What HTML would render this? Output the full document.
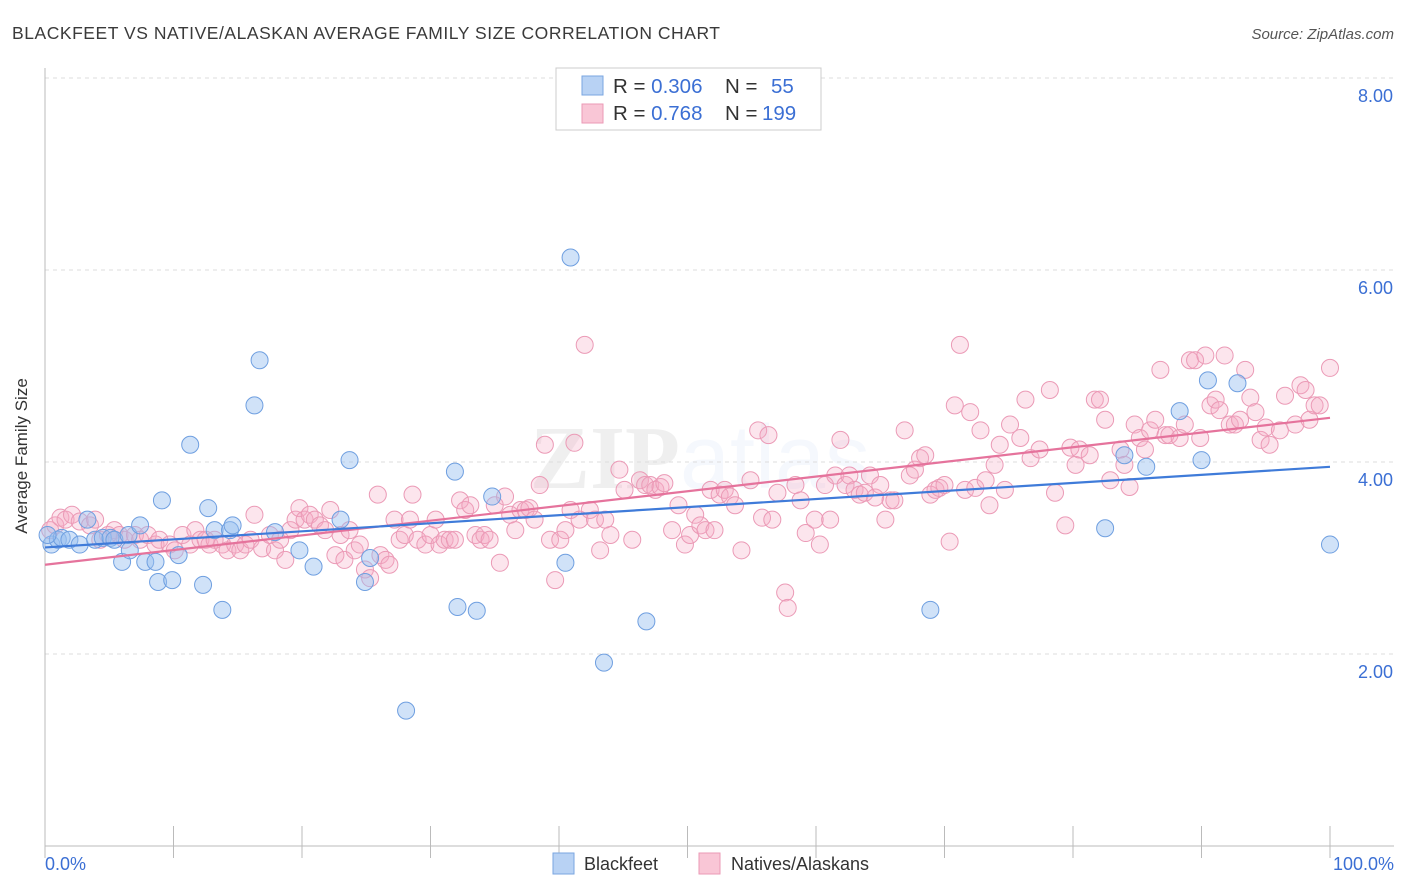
<!DOCTYPE html>
<html><head><meta charset="utf-8"><style>
body{margin:0;background:#fff;font-family:"Liberation Sans",sans-serif;}
#wrap{position:relative;width:1406px;height:892px;overflow:hidden;}
</style></head><body>
<div id="wrap">
<svg id="svg" width="1406" height="892" xmlns="http://www.w3.org/2000/svg">
<text x="12" y="39" font-size="17.5" fill="#3a3a3a" textLength="708" lengthAdjust="spacing">BLACKFEET VS NATIVE/ALASKAN AVERAGE FAMILY SIZE CORRELATION CHART</text>
<text x="1394" y="39" font-size="15" fill="#555" font-style="italic" text-anchor="end">Source: ZipAtlas.com</text>
<text x="700" y="488" font-size="90" fill="#000" opacity="0.06" text-anchor="middle" font-family="Liberation Serif" font-weight="bold">ZIP<tspan font-family="Liberation Sans" font-weight="normal" fill="#3b6fd4" opacity="0.8">atlas</tspan></text>
<g id="grid"></g><g id="axes"></g><g id="pink"></g><g id="blue"></g><g id="lines"></g>
<text x="27" y="456" font-size="17" fill="#333" text-anchor="middle" transform="rotate(-90 27 456)">Average Family Size</text>
<text x="45" y="870" font-size="18" fill="#3b6fd4">0.0%</text>
<text x="1394" y="870" font-size="18" fill="#3b6fd4" text-anchor="end">100.0%</text>
<g>
<rect x="556" y="68" width="265" height="62" fill="#fff" stroke="#ccc"/>
<rect x="582" y="76" width="21" height="19" fill="#b8d2f4" stroke="#7aa6e0"/>
<rect x="582" y="104" width="21" height="19" fill="#f9c6d6" stroke="#eb9ab6"/>
<text x="613" y="93" font-size="20.5" fill="#333">R = <tspan fill="#3b6fd4">0.306</tspan><tspan x="725">N = </tspan><tspan x="771" fill="#3b6fd4">55</tspan></text>
<text x="613" y="120" font-size="20.5" fill="#333">R = <tspan fill="#3b6fd4">0.768</tspan><tspan x="725">N = </tspan><tspan x="762" fill="#3b6fd4">199</tspan></text>
</g>
<g>
<rect x="553" y="853" width="21" height="21" fill="#b8d2f4" stroke="#7aa6e0"/>
<text x="584" y="870" font-size="18" fill="#333">Blackfeet</text>
<rect x="699" y="853" width="21" height="21" fill="#f9c6d6" stroke="#eb9ab6"/>
<text x="731" y="870" font-size="18" fill="#333">Natives/Alaskans</text>
</g>
</svg></div>
<script>
const yTicks=[2,4,6,8];
const yTickLabels=["2.00","4.00","6.00","8.00"];
const xTicks=[0,10,20,30,40,50,60,70,80,90,100];
const blueX=[0.5,1.0,1.3,1.9,2.7,3.3,3.9,4.5,5.1,5.4,6.0,6.5,6.6,7.4,7.8,8.6,8.8,9.1,9.9,10.4,11.3,12.3,12.7,13.2,13.8,14.4,14.6,16.3,16.7,17.9,19.8,20.9,23.0,23.7,24.9,25.3,28.1,31.9,32.1,33.6,34.8,40.5,40.9,43.5,46.8,68.9,82.5,84.0,85.7,88.3,90.0,90.5,92.8,100,0.2];
const blueY=[3.14,3.19,3.21,3.19,3.14,3.40,3.19,3.21,3.21,3.19,2.96,3.24,3.08,3.34,2.96,2.96,2.75,3.60,2.77,3.03,4.18,2.72,3.52,3.29,2.46,3.29,3.34,4.59,5.06,3.27,3.08,2.91,3.40,4.02,2.75,3.00,1.41,3.90,2.49,2.45,3.64,2.95,6.13,1.91,2.34,2.46,3.31,4.07,3.95,4.53,4.02,4.85,4.82,3.14,3.24];
const pinkX=[0.4,0.8,1.2,1.6,2.1,2.7,3.5,3.9,4.3,4.9,5.4,5.8,6.2,7.0,7.4,8.0,8.6,8.9,9.7,10.1,10.7,11.3,11.7,12.1,12.5,12.8,13.2,13.8,14.2,14.8,15.2,15.6,16.0,16.3,16.9,17.5,17.9,18.3,18.7,19.1,19.5,19.8,20.2,20.6,21.0,21.4,21.8,22.2,22.6,23.0,23.3,23.7,24.1,24.5,24.9,25.3,25.9,26.1,26.5,26.8,27.2,27.6,28.0,28.4,28.6,29.0,29.6,30.0,30.4,30.7,31.1,31.5,31.9,32.3,32.7,33.1,33.5,33.9,34.2,34.6,35.0,35.4,35.8,36.2,36.6,37.0,37.4,37.7,38.1,38.5,38.9,39.3,39.7,40.1,40.5,40.9,41.2,41.6,42.0,42.4,42.8,43.2,43.6,44.0,44.7,45.1,45.7,46.3,46.7,47.1,47.5,47.9,48.2,48.8,49.3,49.8,50.2,50.6,51.0,51.4,51.8,52.1,52.5,52.9,53.3,53.7,54.2,54.9,55.5,55.8,56.3,56.6,57.0,57.6,57.8,58.4,58.8,59.2,59.9,60.3,60.7,61.1,61.5,61.9,62.3,62.6,63.0,63.4,63.8,64.2,64.6,65.0,65.4,65.8,66.1,66.9,67.3,67.7,68.1,68.5,68.9,69.3,69.6,70.0,70.4,70.8,71.2,71.6,72.0,72.4,72.8,73.2,73.5,73.9,74.3,74.7,75.1,75.9,76.3,76.7,77.4,78.2,78.6,79.4,79.8,80.2,80.5,81.3,81.7,82.1,82.5,82.9,83.7,84.0,84.4,84.8,85.2,85.6,86.0,86.4,86.8,87.2,87.5,88.3,88.7,89.1,89.5,89.9,90.3,90.7,91.1,91.4,91.8,92.2,92.6,93.0,93.4,93.8,94.2,94.6,95.0,95.3,96.1,96.5,97.3,97.7,98.1,98.4,98.8,99.2,100];
const pinkY=[3.29,3.34,3.42,3.40,3.45,3.38,3.34,3.40,3.19,3.24,3.29,3.24,3.19,3.24,3.19,3.24,3.14,3.19,3.14,3.08,3.24,3.14,3.29,3.19,3.19,3.14,3.19,3.14,3.08,3.14,3.08,3.14,3.19,3.45,3.10,3.24,3.08,3.19,2.98,3.29,3.40,3.52,3.40,3.45,3.40,3.34,3.29,3.50,3.03,3.24,2.98,3.29,3.08,3.14,2.88,2.79,3.66,3.03,2.98,2.93,3.40,3.19,3.24,3.40,3.66,3.19,3.14,3.24,3.40,3.14,3.19,3.19,3.19,3.60,3.50,3.55,3.24,3.19,3.24,3.19,3.55,2.95,3.64,3.45,3.29,3.50,3.50,3.52,3.40,3.76,4.18,3.19,2.77,3.19,3.29,3.50,4.20,3.40,5.22,3.50,3.40,3.08,3.40,3.24,3.92,3.71,3.19,3.81,3.76,3.76,3.71,3.74,3.78,3.29,3.55,3.14,3.24,3.45,3.34,3.29,3.71,3.29,3.66,3.71,3.64,3.55,3.08,3.81,4.33,3.42,4.28,3.40,3.68,2.64,2.48,3.76,3.60,3.26,3.40,3.14,3.76,3.40,3.86,4.23,3.76,3.86,3.71,3.66,3.68,3.86,3.63,3.76,3.40,3.60,3.60,4.33,3.86,3.92,4.04,4.07,3.66,3.71,3.73,3.76,3.17,4.59,5.22,3.71,4.52,3.73,4.33,3.81,3.55,3.97,4.18,3.71,4.39,4.25,4.65,4.04,4.13,4.75,3.68,3.34,4.15,3.97,4.13,4.07,4.65,4.65,4.44,3.81,4.13,3.97,3.74,4.39,4.25,4.13,4.33,4.44,4.96,4.28,4.28,4.25,4.39,5.06,5.06,4.25,5.11,4.59,4.65,4.54,5.11,4.39,4.39,4.44,4.96,4.67,4.52,4.23,4.36,4.18,4.33,4.69,4.39,4.80,4.75,4.44,4.59,4.59,4.98];
const blueTrend=[3.11,3.95];
const pinkTrend=[2.93,4.46];

const NS="http://www.w3.org/2000/svg";
const X0=45,X1=1330,Y0=846,PXU=96;
function sx(p){return X0+(X1-X0)*p/100;}
function sy(v){return Y0-v*PXU;}
function mk(tag,attrs,parent){const e=document.createElementNS(NS,tag);for(const k in attrs)e.setAttribute(k,attrs[k]);document.getElementById(parent).appendChild(e);return e;}

yTicks.forEach((t,i)=>{
  const g=mk('line',{x1:X0,x2:1394,y1:sy(t),y2:sy(t),stroke:'#ddd','stroke-dasharray':'4,4'},'grid');
  
  
  const tx=mk('text',{x:1393,y:sy(t)+24,'font-size':18,fill:'#3b6fd4','text-anchor':'end'},'grid');
  tx.textContent=yTickLabels[i];
  
  
});
const ya=mk('line',{x1:X0,x2:X0,y1:68,y2:Y0,stroke:'#bbb'},'axes');


const xa=mk('line',{x1:X0,x2:1394,y1:Y0,y2:Y0,stroke:'#bbb'},'axes');


xTicks.forEach(t=>{
  const l=mk('line',{x1:sx(t),x2:sx(t),y1:826,y2:858,stroke:'#bbb'},'axes');
  
  
});
pinkX.forEach((x,i)=>{
  const c=mk('circle',{cx:sx(x),cy:sy(pinkY[i]),r:8.5,fill:'rgba(244,170,195,0.3)',stroke:'#eb9ab6','stroke-width':1},'pink');
  
  
});
blueX.forEach((x,i)=>{
  const c=mk('circle',{cx:sx(x),cy:sy(blueY[i]),r:8.5,fill:'rgba(150,190,240,0.45)',stroke:'#6f9fe0','stroke-width':1},'blue');
  
  
});
const pl=mk('line',{x1:sx(0),y1:sy(pinkTrend[0]),x2:sx(100),y2:sy(pinkTrend[1]),stroke:'#e5739c','stroke-width':2.2},'lines');


const bl=mk('line',{x1:sx(0),y1:sy(blueTrend[0]),x2:sx(100),y2:sy(blueTrend[1]),stroke:'#3f7bd9','stroke-width':2.2},'lines');


</script>
</body></html>
